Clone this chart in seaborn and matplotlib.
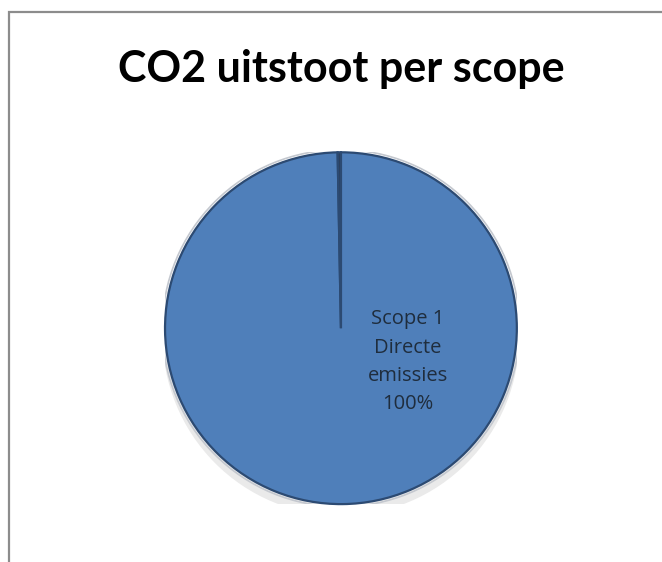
import matplotlib
matplotlib.use("Agg")
import matplotlib.pyplot as plt
from matplotlib.patches import Rectangle, Ellipse, Circle
import seaborn as sns

# data
scopes = ["Scope 1\nDirecte\nemissies", "Scope 2"]
shares = [99.7, 0.3]
pct_labels = ["100%", ""]
colors = ["#4F7FBA", "#2b3f5c"]

sns.set_theme(style="white")
plt.rcParams["font.family"] = ["Open Sans", "DejaVu Sans"]

fig = plt.figure(figsize=(6.62, 5.62), dpi=100)
fig.patch.set_facecolor("white")

# outer chart frame (gray border, runs off the right and bottom)
fig.add_artist(Rectangle((9 / 662, -0.05), 1.0, 1 - 12 / 562 + 0.05,
                         transform=fig.transFigure, fill=False,
                         edgecolor="#8c8c8c", linewidth=1.6))

fig.text(0.516, 0.878, "CO2 uitstoot per scope", ha="center", va="center",
         fontsize=31, fontweight="bold", color="black", family=["Lato", "DejaVu Sans"])

ax = fig.add_axes([0.249, 0.103, 0.532, 0.626])

# soft shadow and light rim around the pie
ax.add_patch(Ellipse((0.0, -0.04), 2.03, 2.05, facecolor="#dcdcdc",
                     edgecolor="none", alpha=0.6, zorder=0))
ax.add_patch(Circle((0.0, 0.0), 1.015, facecolor="none",
                    edgecolor="#c4c8cf", linewidth=1.2, zorder=1))

wedges, _ = ax.pie(shares, colors=colors, startangle=90, counterclock=False,
                   radius=1.0,
                   wedgeprops=dict(edgecolor="#2c4a72", linewidth=1.6))
for w in wedges:
    w.set_zorder(2)

ax.set_xlim(-1.0, 1.0)
ax.set_ylim(-1.0, 1.0)
ax.set_aspect("equal")
ax.axis("off")

ax.text(0.38, -0.19, scopes[0] + "\n" + pct_labels[0], ha="center", va="center",
        fontsize=14.5, color="#1f2d3d", linespacing=1.55, zorder=3)

fig.savefig("out.png", dpi=100)
